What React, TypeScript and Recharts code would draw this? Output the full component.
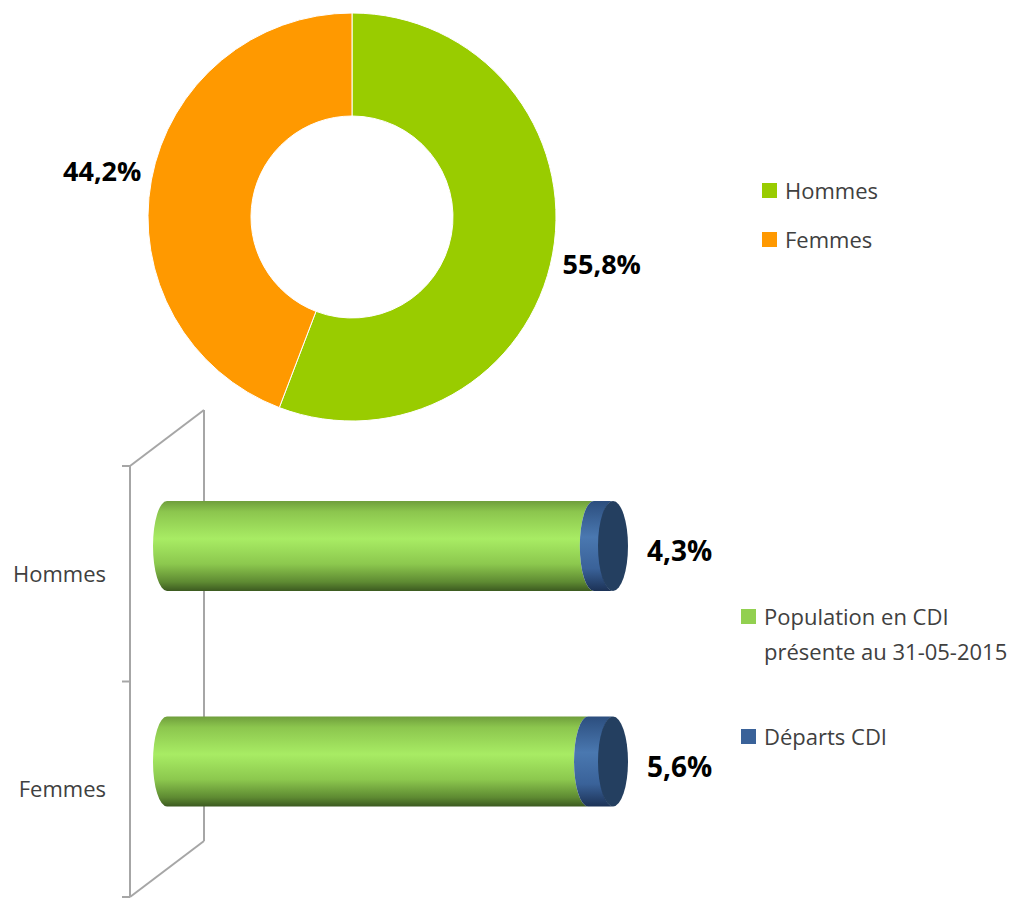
import React from 'react';
import {
  PieChart,
  Pie,
  Cell,
  BarChart,
  Bar,
  XAxis,
  YAxis,
  LabelList,
  Customized,
} from 'recharts';

// valeurs
const genders = ['Hommes', 'Femmes'];
const genderShares = [55.8, 44.2];
const genderColors = ['#99cc00', '#ff9900'];

const cdiPopulation = [95.7, 94.4];
const cdiDepartures = [4.3, 5.6];
const cdiSeries = ['Population en CDI présente au 31-05-2015', 'Départs CDI'];
const cdiColors = ['#92d050', '#3a6299'];

const FONT = '"Open Sans", "Noto Sans", sans-serif';
const TEXT = '#404040';
const WALL = '#a6a6a6';

// pseudo 3D
const DEPTH_X = 74;
const DEPTH_Y = -56;
const CAP_RX = 14;

const PLOT_LEFT = 130;
const PLOT_TOP = 466;
const PLOT_RIGHT = 576;
const PLOT_BOTTOM = 897;

const pieData = genders.map((name, i) => ({ name, value: genderShares[i] }));
const barData = genders.map((name, i) => ({
  name,
  population: cdiPopulation[i],
  departures: cdiDepartures[i],
}));

const fmt = (v: number) => v.toFixed(1).replace('.', ',') + '%';

const RAD = Math.PI / 180;
const renderPieLabel = (props: any) => {
  const { cx, cy, midAngle, outerRadius, value } = props;
  const r = outerRadius + 50;
  const x = cx + r * Math.cos(-midAngle * RAD);
  const y = cy + r * Math.sin(-midAngle * RAD);
  return (
    <text
      x={x}
      y={y}
      textAnchor="middle"
      dominantBaseline="central"
      fontFamily={FONT}
      fontWeight={700}
      fontSize={27}
      fill="#000"
    >
      {fmt(value)}
    </text>
  );
};

const bodyPath = (x0: number, x1: number, top: number, h: number) => {
  const ry = h / 2;
  const bottom = top + h;
  return `M${x0},${top} L${x1},${top} A${CAP_RX},${ry} 0 0 0 ${x1},${bottom} L${x0},${bottom} A${CAP_RX},${ry} 0 0 1 ${x0},${top} Z`;
};

const makeCylinder = (gradId: string, withCap: boolean) => (props: any) => {
  const { x, y, width, height } = props;
  const dx = DEPTH_X / 2;
  const dy = DEPTH_Y / 2;
  const x0 = x + dx;
  const x1 = x + width + dx;
  const top = y + dy;
  return (
    <g>
      <path d={bodyPath(x0, x1, top, height)} fill={`url(#${gradId})`} />
      {withCap && (
        <ellipse cx={x1} cy={top + height / 2} rx={CAP_RX + 1} ry={height / 2} fill="#243f60" />
      )}
    </g>
  );
};

const renderBarLabel = (props: any) => {
  const { x, y, width, height, value } = props;
  return (
    <text
      x={x + width + DEPTH_X / 2 + CAP_RX + 20}
      y={y + height / 2 + DEPTH_Y / 2 + 4}
      textAnchor="start"
      dominantBaseline="central"
      fontFamily={FONT}
      fontWeight={700}
      fontSize={28}
      fill="#000"
    >
      {fmt(Number(value))}
    </text>
  );
};

// mur du fond et graduations de l'axe des catégories
const Wall = () => {
  const wx = PLOT_LEFT + DEPTH_X;
  const mid = (PLOT_TOP + PLOT_BOTTOM) / 2;
  return (
    <g stroke={WALL} strokeWidth={2} fill="none">
      <line x1={wx} y1={PLOT_TOP + DEPTH_Y} x2={wx} y2={PLOT_BOTTOM + DEPTH_Y} />
      <line x1={PLOT_LEFT} y1={PLOT_TOP} x2={wx} y2={PLOT_TOP + DEPTH_Y} />
      <line x1={PLOT_LEFT} y1={PLOT_BOTTOM} x2={wx} y2={PLOT_BOTTOM + DEPTH_Y} />
      {[PLOT_TOP, mid, PLOT_BOTTOM].map((ty) => (
        <line key={ty} x1={PLOT_LEFT - 8} y1={ty} x2={PLOT_LEFT} y2={ty} />
      ))}
    </g>
  );
};

const LegendItem = ({ color, label, top, left }: any) => (
  <div
    style={{
      position: 'absolute',
      left,
      top,
      display: 'flex',
      alignItems: 'flex-start',
      fontFamily: FONT,
      fontSize: 22,
      lineHeight: '35px',
      color: TEXT,
    }}
  >
    <span
      style={{
        width: 15,
        height: 15,
        background: color,
        marginTop: 10,
        marginRight: 8,
        flex: 'none',
      }}
    />
    <span style={{ width: 260 }}>{label}</span>
  </div>
);

export default function App() {
  return (
    <div
      style={{
        position: 'absolute',
        left: 0,
        top: 0,
        width: 1026,
        height: 899,
        background: '#fff',
        overflow: 'hidden',
      }}
    >
      <div style={{ position: 'absolute', left: 0, top: 0 }}>
        <BarChart
          width={1026}
          height={899}
          data={barData}
          layout="vertical"
          margin={{ top: PLOT_TOP, right: 1026 - PLOT_RIGHT, bottom: 899 - PLOT_BOTTOM, left: 0 }}
          barSize={90}
        >
          <defs>
            <linearGradient id="gGreen" x1="0" y1="0" x2="0" y2="1">
              <stop offset="0%" stopColor="#6f9e3c" />
              <stop offset="12%" stopColor="#8cc64e" />
              <stop offset="42%" stopColor="#a8ec64" />
              <stop offset="70%" stopColor="#8cc84e" />
              <stop offset="90%" stopColor="#5e8a32" />
              <stop offset="100%" stopColor="#3c5a20" />
            </linearGradient>
            <linearGradient id="gBlue" x1="0" y1="0" x2="0" y2="1">
              <stop offset="0%" stopColor="#2c4e7e" />
              <stop offset="40%" stopColor="#4a78b0" />
              <stop offset="75%" stopColor="#3a6299" />
              <stop offset="100%" stopColor="#1c3256" />
            </linearGradient>
          </defs>
          <Customized component={<Wall />} />
          <XAxis type="number" domain={[0, 100]} hide />
          <YAxis
            type="category"
            dataKey="name"
            width={PLOT_LEFT}
            axisLine={{ stroke: WALL, strokeWidth: 2 }}
            tickLine={false}
            tickSize={6}
            tickMargin={18}
            tick={{ fontFamily: FONT, fontSize: 22, fill: TEXT }}
          />
          <Bar
            dataKey="population"
            stackId="a"
            fill={cdiColors[0]}
            shape={makeCylinder('gGreen', false)}
            isAnimationActive={false}
          />
          <Bar
            dataKey="departures"
            stackId="a"
            fill={cdiColors[1]}
            shape={makeCylinder('gBlue', true)}
            isAnimationActive={false}
          >
            <LabelList dataKey="departures" content={renderBarLabel} />
          </Bar>
        </BarChart>
      </div>

      <div style={{ position: 'absolute', left: 0, top: 0 }}>
        <PieChart width={1026} height={430}>
          <Pie
            data={pieData}
            dataKey="value"
            nameKey="name"
            cx={347}
            cy={212}
            innerRadius={101}
            outerRadius={204}
            startAngle={90}
            endAngle={-270}
            stroke="#ffffff"
            strokeWidth={1}
            label={renderPieLabel}
            labelLine={false}
            isAnimationActive={false}
          >
            {pieData.map((d, i) => (
              <Cell key={d.name} fill={genderColors[i]} />
            ))}
          </Pie>
        </PieChart>
      </div>

      {genders.map((g, i) => (
        <LegendItem key={g} color={genderColors[i]} label={g} left={762} top={173 + i * 49} />
      ))}
      <LegendItem color={cdiColors[0]} label={cdiSeries[0]} left={741} top={599} />
      <LegendItem color={cdiColors[1]} label={cdiSeries[1]} left={741} top={719} />
    </div>
  );
}
